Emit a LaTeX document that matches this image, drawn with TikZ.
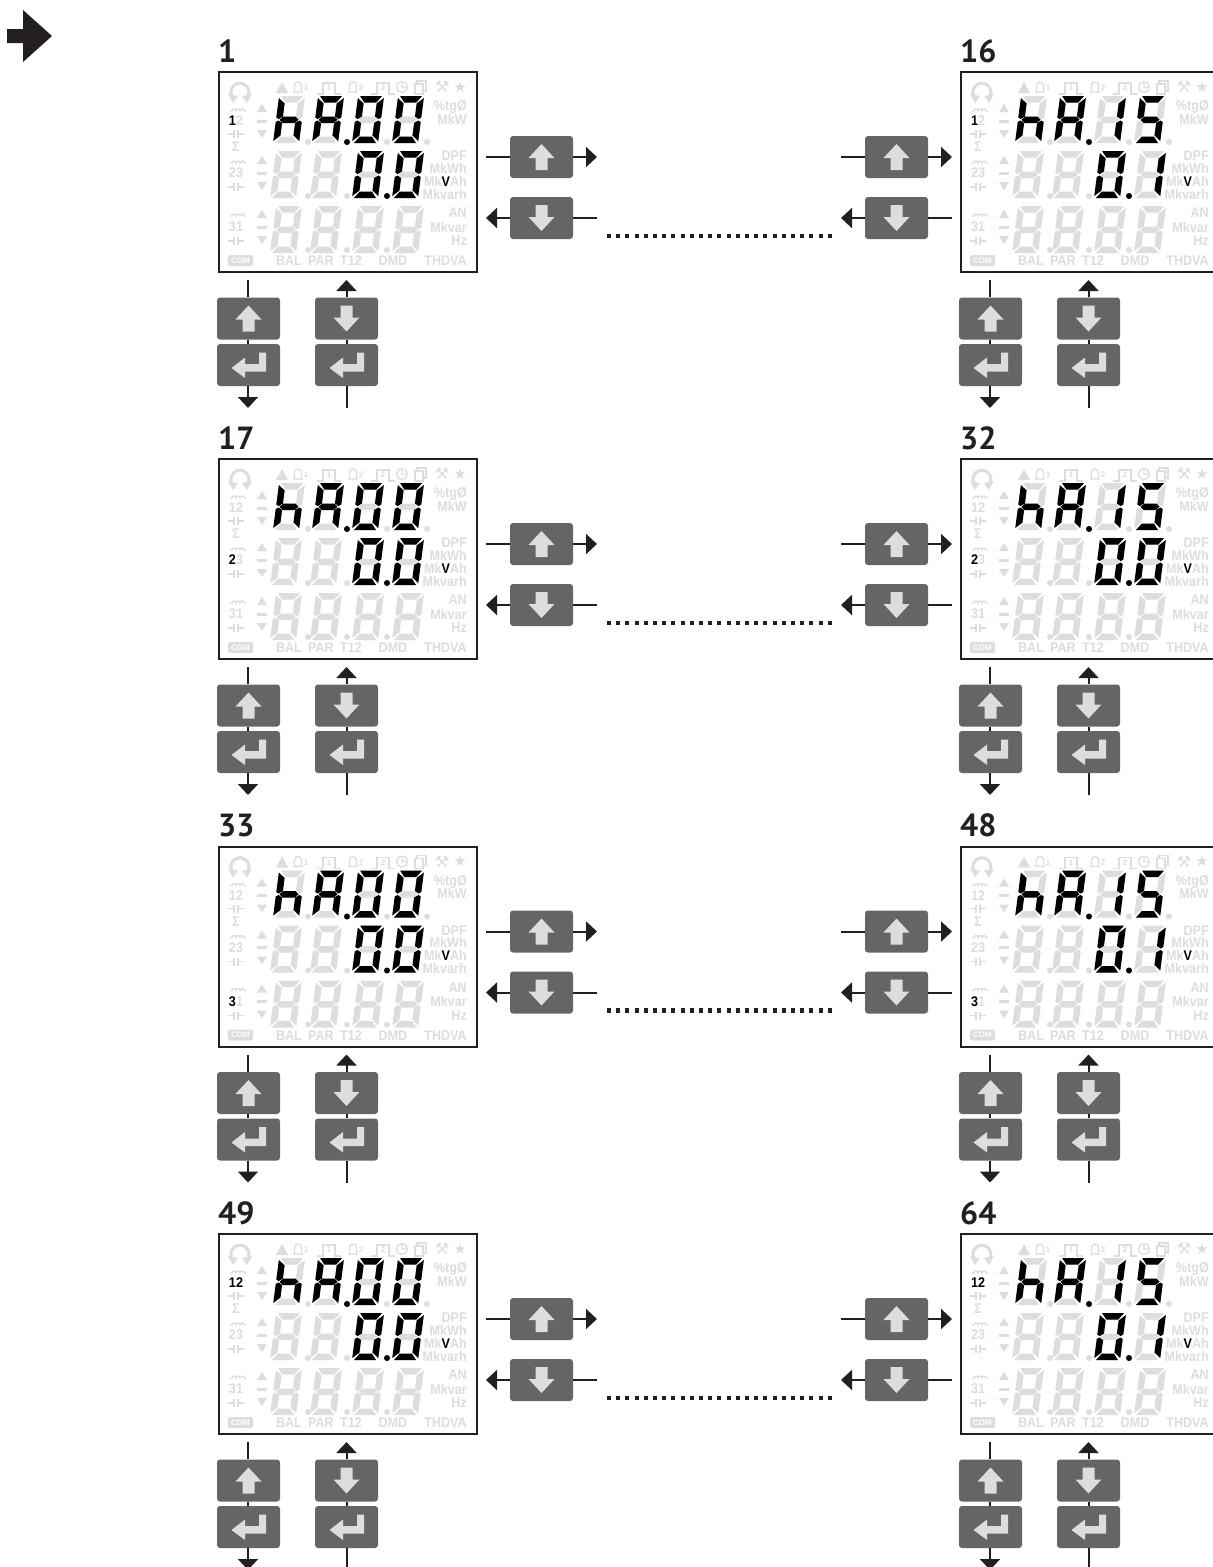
\documentclass[tikz,border=0pt]{standalone}
\usepackage{fontspec}
\setmainfont{Liberation Sans}
\newfontfamily\lcdfont[FakeStretch=0.9]{Liberation Sans}
\newfontfamily\numfont{PT Sans}
\newfontfamily\symfont{DejaVu Sans}
\usetikzlibrary{arrows.meta}

\definecolor{lcdgray}{HTML}{DCDDDD}
\definecolor{keygray}{HTML}{636665}
\definecolor{linecol}{HTML}{231F20}

\tikzset{
  lcdframe/.style={draw=linecol,line width=2.4pt,fill=white,rectangle,inner sep=0pt,minimum width=258pt,minimum height=200pt,anchor=north west},
  lcdoff/.style={fill=lcdgray},
  lcdon/.style={fill=black},
  lcdtext/.style={text=lcdgray,font=\fontsize{14}{14}\selectfont\lcdfont\bfseries,inner sep=0pt},
  lcdsmall/.style={text=lcdgray,font=\fontsize{8}{8}\selectfont\bfseries,inner sep=0pt},
  lcdline/.style={draw=lcdgray,line width=1.3pt},
  panelnum/.style={text=linecol,font=\fontsize{32}{32}\selectfont\numfont\bfseries,inner sep=0pt,anchor=base west},
  padkey/.style={rectangle,rounded corners=3pt,fill=keygray,inner sep=0pt,minimum width=63pt,minimum height=42pt},
  flow/.style={draw=linecol,line width=2pt},
  flowtip/.style={flow,-{Triangle[length=11pt,width=20pt]}},
  tipflow/.style={flow,{Triangle[length=11pt,width=20pt]}-},
  dotrow/.style={draw=linecol,line width=4.5pt,dash pattern=on 4pt off 5.2pt},
  pics/keyup/.style={code={\fill[lcdoff] (0,-13)--(13,1)--(6,1)--(6,13)--(-6,13)--(-6,1)--(-13,1)--cycle;}},
  pics/keydown/.style={code={\fill[lcdoff] (0,13)--(13,-1)--(6,-1)--(6,-13)--(-6,-13)--(-6,-1)--(-13,-1)--cycle;}},
  pics/keyenter/.style={code={\fill[lcdoff] (-17,3)--(-3.5,-7.5)--(-3.5,-1)--(10.5,-1)--(10.5,-12.5)--(17.5,-12.5)--(17.5,6.5)--(-3.5,6.5)--(-3.5,13)--cycle;}},
  pics/coil/.style={code={\draw[lcdline] (-8,2)--(-6,2) arc[start angle=180,end angle=0,radius=2pt] arc[start angle=180,end angle=0,radius=2pt] arc[start angle=180,end angle=0,radius=2pt]--(8,2);}},
  pics/capac/.style={code={\draw[lcdline] (-8,0)--(-2,0) (-2,-4)--(-2,4) (2,-4)--(2,4) (2,0)--(8,0);}},
  pics/bell/.style={code={\draw[lcdline] (-5,5)--(5,5) (-3.5,5)--(-3.5,-1.5) arc[start angle=180,end angle=0,radius=3.5pt]--(3.5,5);}},
  pics/pulse/.style={code={\draw[lcdline] (-12,6)--(-6,6)--(-6,-5)--(6,-5)--(6,6)--(12,6);}},
}

\def\segA{(2,0)--(24,0)--(19,6.5)--(7,6.5)--cycle}
\def\segB{(26,2)--(26,21.5)--(23.5,23)--(19.5,20.5)--(19.5,7.5)--cycle}
\def\segC{(23.5,24.5)--(26,26)--(26,45)--(19.5,39.5)--(19.5,27)--cycle}
\def\segD{(7,40.5)--(19,40.5)--(24,47)--(2,47)--cycle}
\def\segE{(2.5,24.5)--(6.5,27)--(6.5,39.5)--(0,45)--(0,26)--cycle}
\def\segF{(0,2)--(6.5,7.5)--(6.5,20.5)--(2.5,23)--(0,21.5)--cycle}
\def\segG{(3.5,23.75)--(7,20.5)--(19,20.5)--(22.5,23.75)--(19,27)--(7,27)--cycle}

\def\digH{E,F,G,C}
\def\digR{A,B,C,E,F,G}
\def\digO{A,B,C,D,E,F}
\def\digI{B,C}
\def\digV{A,F,G,C,D}
\newcommand\lit[1]{\textcolor{black}{#1}}

\newcommand\lcdghost[2]{%
  \begin{scope}[shift={(#1,#2)},xslant=.13,shift={(0,-47)}]
    \foreach \s in {A,B,C,D,E,F,G}{\fill[lcdoff] \csname seg\s\endcsname;}
  \end{scope}}
\newcommand\lcddigit[3]{%
  \edef\seglist{#3}%
  \begin{scope}[shift={(#1,#2)},xslant=.13,shift={(0,-47)}]
    \foreach \s in \seglist{\fill[lcdon] \csname seg\s\endcsname;}
  \end{scope}}

% name, x, y, phase labels, last three digits
\newcommand\lcdpanel[9]{%
  \node[lcdframe] (panel#1) at (#2,#3) {};
  \node[panelnum] (num#1) at (#2,#3-9) {#1};
  \begin{scope}[shift={(#2,#3)}]
    \draw[lcdgray,line width=3pt] (15,27) arc[start angle=220,end angle=-40,radius=9pt];
    \fill[lcdoff] (10,23)--(20,25)--(15,32)--cycle (34,23)--(24,25)--(29,32)--cycle;
    \fill[lcdoff] (58,22)--(70,22)--(64,11)--cycle;
    \pic at (80,16) {bell};
    \pic at (135,16) {bell};
    \pic at (111,17) {pulse};
    \pic at (165,17) {pulse};
    \draw[lcdline] (184,16) circle (5.5pt) (184,12)--(184,16)--(188,16);
    \draw[lcdline] (197,13) rectangle (205,23) (199,13)--(199,10)--(208,10)--(208,20)--(205,20);
    \foreach \ty in {50,102,156}{
      \fill[lcdoff] (39,\ty-9)--(49,\ty-9)--(44,\ty-17)--cycle;
      \fill[lcdoff] (39,\ty-1.5) rectangle (49,\ty+1.5);
      \fill[lcdoff] (39,\ty+9)--(49,\ty+9)--(44,\ty+17)--cycle;
    }
    \foreach \ty in {38,90,143}{\pic at (20,\ty) {coil};}
    \foreach \ty in {63,116,170}{\pic at (18,\ty) {capac};}
    \foreach \tx/\ty/\ta/\lab [count=\k] in {
      249/36/east/\%tgØ,249/48/east/MkW,249/85/east/DPF,249/97/east/MkWh,
      249/110/east/Mk\lit{V}Ah,249/123/east/Mkvarh,249/142/east/AN,249/156/east/Mkvar,
      249/170/east/Hz,71/190/center/BAL,103/190/center/PAR,133/190/center/T12,
      175/190/center/DMD,249/190/east/THDVA,18/50/center/#4,18/76/center/Σ,
      18/102/center/#5,18/156/center/#6}{
      \node[lcdtext,anchor=\ta] (txt#1-\k) at (\tx,\ty) {\lab};
    }
    \node[lcdsmall] (bella#1) at (88,17) {1};
    \node[lcdsmall] (bellb#1) at (143,17) {2};
    \node[lcdsmall] (pulsea#1) at (111,17) {1};
    \node[lcdsmall] (pulseb#1) at (165,17) {2};
    \node[lcdtext,font=\fontsize{16}{16}\selectfont\symfont] (tools#1) at (224,16) {⚒};
    \node[lcdtext,font=\fontsize{15}{15}\selectfont\symfont] (star#1) at (242,16) {★};
    \node[rectangle,rounded corners=2pt,fill=lcdgray,text=white,inner sep=0pt,minimum width=25pt,minimum height=11pt,font=\fontsize{8}{8}\selectfont\bfseries] (com#1) at (22.5,189.5) {COM};
    \foreach \dx in {55,94,134,174}{\lcdghost{\dx}{72}}
    \foreach \dx in {52,92,134,174}{\lcdghost{\dx}{127}\lcdghost{\dx}{182}}
    \foreach \dx in {90,129,169,209}{\fill[lcdoff] (\dx,71) circle (3pt);}
    \foreach \dx in {90,129,169}{\fill[lcdoff] (\dx,125) circle (3pt);\fill[lcdoff] (\dx,179) circle (3pt);}
    \lcddigit{55}{72}{\digH}
    \lcddigit{94}{72}{\digR}
    \lcddigit{134}{72}{#7}
    \lcddigit{174}{72}{#8}
    \lcddigit{134}{127}{\digO}
    \lcddigit{174}{127}{#9}
    \fill[lcdon] (129,71) circle (3pt);
    \fill[lcdon] (169,125) circle (3pt);
  \end{scope}}

% keys under a panel
\newcommand\lcdkeys[3]{%
  \node[padkey] (upa#1) at (#2+30.5,#3+247.5) {};
  \node[padkey] (enta#1) at (#2+30.5,#3+294) {};
  \node[padkey] (downb#1) at (#2+128.5,#3+247.5) {};
  \node[padkey] (entb#1) at (#2+128.5,#3+294) {};
  \pic at (upa#1) {keyup};
  \pic at (enta#1) {keyenter};
  \pic at (downb#1) {keydown};
  \pic at (entb#1) {keyenter};
  \coordinate (ina#1) at (#2+30,#3+209);
  \coordinate (outa#1) at (#2+30,#3+337);
  \coordinate (outb#1) at (#2+128.5,#3+209);
  \coordinate (inb#1) at (#2+128.5,#3+337);
  \draw[flow] (ina#1) -- (ina#1 |- upa#1.north);
  \draw[flow] (ina#1 |- upa#1.south) -- (ina#1 |- enta#1.north);
  \draw[flowtip] (ina#1 |- enta#1.south) -- (outa#1);
  \draw[flow] (inb#1) -- (entb#1);
  \draw[flow] (entb#1) -- (downb#1);
  \draw[flowtip] (downb#1) -- (outb#1);
}

% keys beside a panel
\newcommand\lcdside[3]{%
  \node[padkey] (nextk#1) at (#2,#3+86) {};
  \node[padkey] (prevk#1) at (#2,#3+147) {};
  \pic at (nextk#1) {keyup};
  \pic at (prevk#1) {keydown};
  \coordinate (nexta#1) at (#2-55.5,#3+86);
  \coordinate (nextb#1) at (#2+55.5,#3+86);
  \coordinate (preva#1) at (#2-55.5,#3+147);
  \coordinate (prevb#1) at (#2+55.5,#3+147);
  \draw[flow] (nexta#1) -- (nextk#1);
  \draw[flowtip] (nextk#1) -- (nextb#1);
  \draw[tipflow] (preva#1) -- (prevk#1);
  \draw[flow] (prevk#1) -- (prevb#1);
}

\begin{document}
\begin{tikzpicture}[x=1pt,y=-1pt]
  \clip (0,0) rectangle (1213,1567);
  \fill[linecol] (7,29)--(23,29)--(23,10)--(52,36)--(23,62)--(23,43)--(7,43)--cycle;
  \foreach \py/\fst/\lst/\la/\lb/\lc/\lowd in {
    71/1/16/\lit{1}2/23/31/\digI,
    458/17/32/12/\lit{2}3/31/\digO,
    845.5/33/48/12/23/\lit{3}1/\digI,
    1233/49/64/\lit{12}/23/31/\digI}{
    \lcdpanel{\fst}{218}{\py}{\la}{\lb}{\lc}{\digO}{\digO}{\digO}
    \lcdpanel{\lst}{960}{\py}{\la}{\lb}{\lc}{\digI}{\digV}{\lowd}
    \lcdkeys{\fst}{218}{\py}
    \lcdkeys{\lst}{960}{\py}
    \lcdside{\fst}{541.5}{\py}
    \lcdside{\lst}{896.5}{\py}
    \coordinate (dota\fst) at (607,\py+165);
    \coordinate (dotb\fst) at (832,\py+165);
    \draw[dotrow] (dota\fst) -- (dotb\fst);
  }
\end{tikzpicture}
\end{document}
